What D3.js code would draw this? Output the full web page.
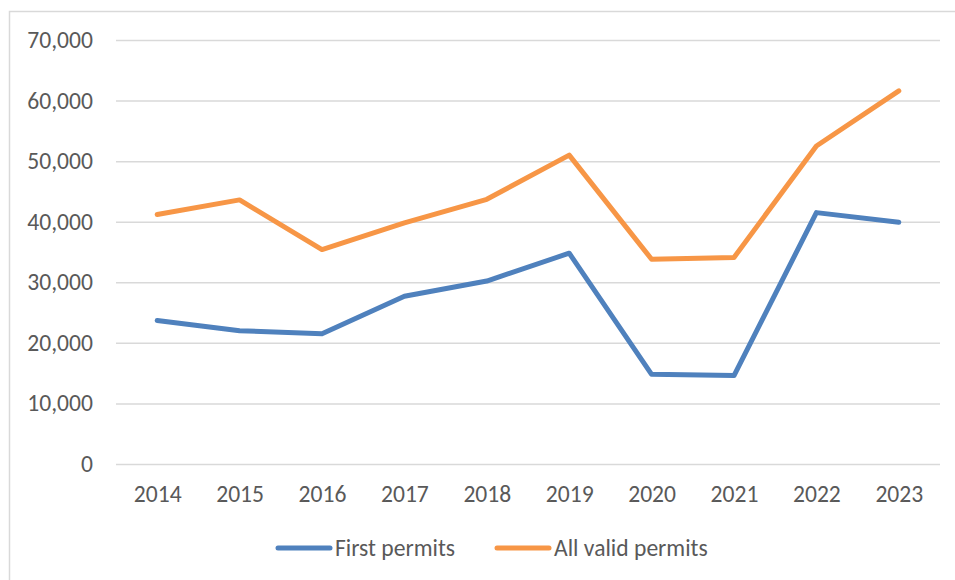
<!DOCTYPE html>
<html>
<head>
<meta charset="utf-8">
<title>Permits 2014-2023</title>
<script src="https://cdn.jsdelivr.net/npm/d3@7"></script>
<style>
  body { margin: 0; background: #fff; overflow: hidden; }
  svg { display: block; }
  svg text { font-family: Calibri, Carlito, Lato, sans-serif; fill: #595959; }
</style>
</head>
<body>
<div id="chart"></div>
<script>
  // data
  var years        = ["2014","2015","2016","2017","2018","2019","2020","2021","2022","2023"];
  var firstPermits = [23700, 22000, 21500, 27700, 30200, 34800, 14800, 14600, 41500, 39900];
  var allPermits   = [41200, 43600, 35400, 39800, 43700, 51000, 33800, 34100, 52500, 61600];
  var yTicks       = [0, 10000, 20000, 30000, 40000, 50000, 60000, 70000];
  var seriesNames  = ["First permits", "All valid permits"];
  var seriesColours= ["#4f81bd", "#f79646"];

  var width  = 955;
  var height = 580;
  var margin = {left: 116, top: 40, right: 15, bottom: 116};
  var innerWidth  = width - margin.left - margin.right;
  var innerHeight = height - margin.top - margin.bottom;
  var fontSize = 23.6;

  var svg = d3.select("#chart").append("svg")
      .attr("width", width)
      .attr("height", height);

  // chart frame (only left and top edges show in the picture)
  svg.append("path")
      .attr("d", "M9.5,580 V11.5 H955")
      .attr("fill", "none")
      .attr("stroke", "#d9d9d9")
      .attr("stroke-width", 1.5);

  var xScale = d3.scalePoint().domain(years).range([0, innerWidth]).padding(0.5);
  var yScale = d3.scaleLinear().domain([0, 70000]).range([innerHeight, 0]);

  var g = svg.append("g")
      .attr("transform", "translate(" + margin.left + "," + margin.top + ")");

  // gridlines + y labels
  var yAxis = d3.axisLeft(yScale)
      .tickValues(yTicks)
      .tickSize(-innerWidth)
      .tickPadding(23)
      .tickFormat(d3.format(","));
  var yg = g.append("g").call(yAxis);
  yg.attr("font-family", null).attr("font-size", null);
  yg.select(".domain").remove();
  yg.selectAll("line").attr("stroke", "#d9d9d9").attr("stroke-width", 1.5);
  yg.selectAll("text").attr("font-size", fontSize).attr("fill", "#595959");

  // x labels
  var xAxis = d3.axisBottom(xScale).tickSize(0).tickPadding(21);
  var xg = g.append("g")
      .attr("transform", "translate(0," + innerHeight + ")")
      .call(xAxis);
  xg.attr("font-family", null).attr("font-size", null);
  xg.select(".domain").remove();
  xg.selectAll("text").attr("font-size", fontSize).attr("fill", "#595959");

  var line = d3.line()
      .x(function(d, i) { return xScale(years[i]); })
      .y(function(d) { return yScale(d); });

  [firstPermits, allPermits].forEach(function(values, i) {
    g.append("path")
        .datum(values)
        .attr("d", line)
        .attr("fill", "none")
        .attr("stroke", seriesColours[i])
        .attr("stroke-width", 5)
        .attr("stroke-linejoin", "round")
        .attr("stroke-linecap", "round");
  });

  // legend
  var legendX = [278, 497];
  var legendY = 548;
  seriesNames.forEach(function(name, i) {
    var lg = svg.append("g").attr("transform", "translate(" + legendX[i] + "," + legendY + ")");
    lg.append("line")
        .attr("x1", 0).attr("x2", 52)
        .attr("stroke", seriesColours[i])
        .attr("stroke-width", 5)
        .attr("stroke-linecap", "round");
    lg.append("text")
        .attr("x", 57)
        .attr("dy", "0.35em")
        .attr("font-size", fontSize)
        .text(name);
  });
</script>
</body>
</html>
